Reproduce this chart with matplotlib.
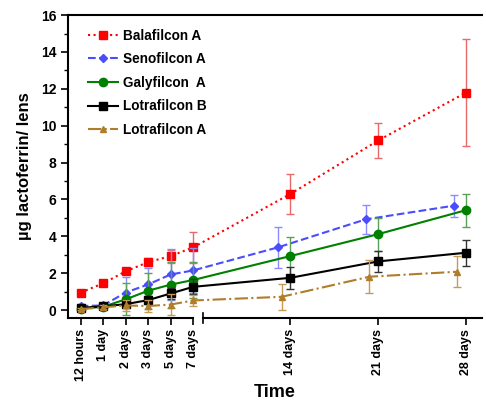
"""
Lactoferrin uptake on contact lenses over time (broken time axis).
"""
import matplotlib
matplotlib.use("Agg")
import matplotlib.pyplot as plt
from matplotlib.ticker import MultipleLocator

plt.rcParams['font.family'] = ['Liberation Sans', 'DejaVu Sans']
plt.rcParams['font.weight'] = 'bold'

# Time points
time_labels = ['12 hours', '1 day', '2 days', '3 days', '5 days', '7 days',
               '14 days', '21 days', '28 days']
days = [0.5, 1, 2, 3, 5, 7, 14, 21, 28]

# ug lactoferrin / lens (mean, sd)
balafilcon_a = [0.95, 1.45, 2.1, 2.6, 2.93, 3.4, 6.3, 9.2, 11.8]
balafilcon_a_sd = [0.1, 0.1, 0.15, 0.2, 0.35, 0.85, 1.1, 0.95, 2.9]
senofilcon_a = [0.22, 0.25, 0.95, 1.39, 1.93, 2.15, 3.4, 4.92, 5.66]
senofilcon_a_sd = [0.1, 0.1, 0.85, 0.9, 1.4, 1.2, 1.1, 0.8, 0.6]
galyfilcon_a = [0.08, 0.18, 0.58, 1.05, 1.38, 1.63, 2.93, 4.12, 5.42]
galyfilcon_a_sd = [0.05, 0.1, 0.87, 0.97, 1.25, 1.0, 1.05, 0.9, 0.9]
lotrafilcon_b = [0.12, 0.2, 0.32, 0.54, 0.9, 1.26, 1.75, 2.64, 3.11]
lotrafilcon_b_sd = [0.05, 0.08, 0.15, 0.2, 0.3, 0.4, 0.6, 0.55, 0.7]
lotrafilcon_a = [0.05, 0.15, 0.25, 0.22, 0.3, 0.52, 0.72, 1.81, 2.08]
lotrafilcon_a_sd = [0.05, 0.1, 0.3, 0.35, 0.55, 0.3, 0.7, 0.9, 0.85]


def axis_pos(d, shift=0.0):
    """Map a time in days onto the broken axis."""
    if d <= 7 and shift == 0.0 and d in days[:6]:
        return days[:6].index(d)
    return 5.42 + (d + shift - 7) * 0.5575


series = [
    ("Balafilcon A", balafilcon_a, balafilcon_a_sd, '#FF0000', '#E86A6A', ':', 's', 6, 0.0),
    ("Senofilcon A", senofilcon_a, senofilcon_a_sd, '#4B4BFF', '#8C8CFF', '--', 'D', 4, -1.0),
    ("Galyfilcon  A", galyfilcon_a, galyfilcon_a_sd, '#008000', '#5AA05A', '-', 'o', 6, 0.0),
    ("Lotrafilcon B", lotrafilcon_b, lotrafilcon_b_sd, '#000000', '#333333', '-', 's', 5.5, 0.0),
    ("Lotrafilcon A", lotrafilcon_a, lotrafilcon_a_sd, '#B07D2B', '#C49A55', '-.', '^', 5, -0.7),
]

fig = plt.figure(figsize=(4.86, 4.08), dpi=100)
ax = fig.add_axes([0.14, 0.2206, 0.852, 0.7424])

for name, vals, sd, col, ecol, ls, mk, ms, shift in series:
    xs = [axis_pos(d) if i < 6 else axis_pos(d, shift) for i, d in enumerate(days)]
    ax.errorbar(xs, vals, yerr=sd, fmt='none', ecolor=ecol, elinewidth=1.0,
                capsize=3, capthick=1.0)
    ax.plot(xs, vals, linestyle=ls, color=col, marker=mk, markersize=ms,
            linewidth=1.5, label=name)

xmin, xmax = -0.56, 17.84
ax.set_xlim(xmin, xmax)
ax.set_ylim(-0.43, 16)

tick_pos = [axis_pos(d) for d in days]
ax.set_xticks(tick_pos)
ax.set_xticklabels(time_labels, rotation=90, fontsize=9, fontweight='bold')
ax.yaxis.set_major_locator(MultipleLocator(2))
ax.yaxis.set_minor_locator(MultipleLocator(1))
ax.tick_params(axis='y', which='major', direction='out', length=5, width=1.2,
               labelsize=10)
ax.tick_params(axis='y', which='minor', direction='out', length=3, width=1.0)
ax.tick_params(axis='x', direction='out', length=5, width=1.2, pad=3)
for lab in ax.get_yticklabels():
    lab.set_fontweight('bold')

# broken bottom axis
ax.spines['bottom'].set_visible(False)
ax.spines['right'].set_visible(False)
ax.spines['left'].set_linewidth(1.5)
ax.spines['top'].set_linewidth(1.5)
tr = ax.get_xaxis_transform()
ax.plot([xmin, 5.0], [0, 0], color='black', lw=1.5, transform=tr, clip_on=False)
ax.plot([5.42, xmax], [0, 0], color='black', lw=1.5, transform=tr, clip_on=False)
ax.plot([5.42, 5.42], [-0.016, 0.016], color='black', lw=1.2, transform=tr,
        clip_on=False)

ax.set_xlabel('Time', fontsize=13, fontweight='bold', labelpad=2)
ax.set_ylabel('\u00b5g lactoferrin/ lens', fontsize=12, fontweight='bold',
              labelpad=6)

ax.legend(loc='upper left', bbox_to_anchor=(0.015, 1.0), frameon=False,
          prop={'size': 9.8, 'weight': 'bold'}, handlelength=2.2,
          labelspacing=0.7, handletextpad=0.4, borderaxespad=0.6)

fig.savefig('out.png', dpi=100)
